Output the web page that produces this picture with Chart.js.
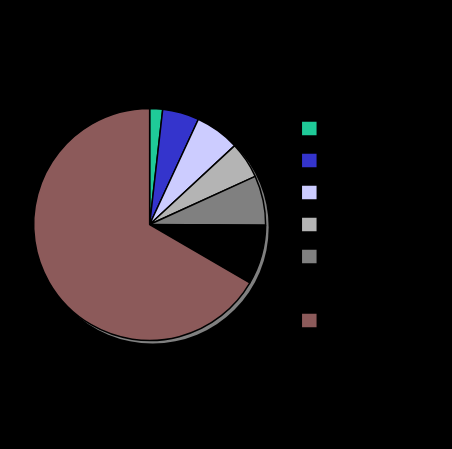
<!DOCTYPE html>
<html>
<head>
<meta charset="utf-8">
<script src="https://cdn.jsdelivr.net/npm/chart.js@4/dist/chart.umd.min.js"></script>
<style>
  html, body { margin: 0; padding: 0; background: #000; }
  #wrap { width: 452px; height: 449px; }
</style>
</head>
<body>
<div id="wrap"><canvas id="pieChart"></canvas></div>
<script>
// Slice labels (text is black on black in the reference)
const categories = ['Category 1', 'Category 2', 'Category 3', 'Category 4', 'Category 5', 'Category 6', 'Category 7'];
// Slice shares in percent
const shares = [1.8, 5.1, 6.2, 5.1, 6.9, 8.3, 66.6];
const sliceColors = ['#1fca98', '#3434cc', '#ccccff', '#b4b4b4', '#808080', '#000000', '#8c5a5a'];

// Draw a gray drop shadow behind the pie
const pieShadow = {
  id: 'pieShadow',
  beforeDatasetsDraw(chart) {
    const arc = chart.getDatasetMeta(0).data[0];
    if (!arc) return;
    const ctx = chart.ctx;
    ctx.save();
    ctx.beginPath();
    ctx.arc(arc.x + 3, arc.y + 3, arc.outerRadius, 0, Math.PI * 2);
    ctx.fillStyle = '#808080';
    ctx.fill();
    ctx.restore();
  }
};

new Chart(document.getElementById('pieChart'), {
  type: 'pie',
  data: {
    labels: categories,
    datasets: [{
      data: shares,
      backgroundColor: sliceColors,
      borderColor: '#000',
      borderWidth: 1.5,
      radius: 116
    }]
  },
  options: {
    responsive: true,
    maintainAspectRatio: false,
    animation: false,
    layout: { padding: { left: 15, right: 60, top: 0, bottom: 0 } },
    plugins: {
      legend: {
        position: 'right',
        labels: {
          boxWidth: 16,
          boxHeight: 15,
          padding: 17,
          color: '#000',
          font: { family: 'Liberation Sans', size: 12 }
        }
      },
      tooltip: { enabled: false }
    }
  },
  plugins: [pieShadow]
});
</script>
</body>
</html>
